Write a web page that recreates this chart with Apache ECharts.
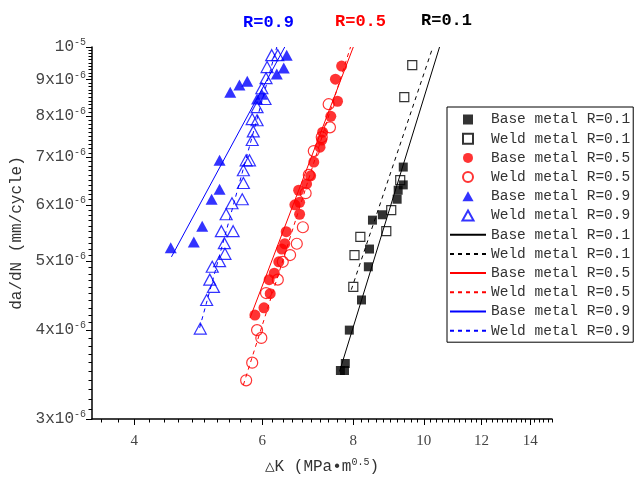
<!DOCTYPE html>
<html><head><meta charset="utf-8">
<script src="https://cdn.jsdelivr.net/npm/echarts@6/dist/echarts.min.js"></script>
<style>html,body{margin:0;padding:0;background:#fff}#c{width:640px;height:480px}</style>
</head><body><div id="c"></div>
<script>
// ---- data (ΔK in MPa·m^0.5, da/dN in mm/cycle) ----
const baseR01 = [[7.68,3.51e-6],[7.78,3.51e-6],[7.80,3.59e-6],[7.90,4.00e-6],[8.21,4.41e-6],[8.39,4.91e-6],[8.42,5.20e-6],[8.50,5.71e-6],[8.77,5.81e-6],[9.19,6.11e-6],[9.22,6.29e-6],[9.37,6.40e-6],[9.37,6.78e-6]];
const weldR01 = [[9.64,9.43e-6],[9.40,8.50e-6],[9.28,6.50e-6],[9.02,5.90e-6],[8.88,5.51e-6],[8.18,5.41e-6],[8.03,5.10e-6],[8.00,4.60e-6]];
const baseR05 = [[7.71,9.40e-6],[7.56,9.01e-6],[7.61,8.39e-6],[7.45,7.99e-6],[7.26,7.59e-6],[7.24,7.40e-6],[7.20,7.23e-6],[7.06,6.89e-6],[6.99,6.59e-6],[6.90,6.42e-6],[6.73,6.29e-6],[6.75,6.05e-6],[6.65,6.00e-6],[6.75,5.82e-6],[6.47,5.50e-6],[6.44,5.29e-6],[6.38,5.20e-6],[6.32,4.99e-6],[6.23,4.81e-6],[6.13,4.71e-6],[6.15,4.50e-6],[6.03,4.30e-6],[5.86,4.20e-6]];
const weldR05 = [[7.40,8.31e-6],[7.43,7.71e-6],[7.24,7.47e-6],[7.06,7.14e-6],[6.95,6.61e-6],[6.88,6.23e-6],[6.82,5.58e-6],[6.69,5.29e-6],[6.55,5.10e-6],[6.40,4.99e-6],[6.30,4.71e-6],[6.07,4.51e-6],[5.90,4.00e-6],[5.98,3.90e-6],[5.81,3.60e-6],[5.70,3.40e-6]];
const baseR09 = [[4.49,5.22e-6],[4.83,5.32e-6],[4.96,5.60e-6],[5.11,6.11e-6],[5.24,6.31e-6],[5.24,6.93e-6],[5.42,8.64e-6],[5.58,8.84e-6],[5.72,8.95e-6],[5.90,8.45e-6],[5.99,8.58e-6],[6.28,9.16e-6],[6.42,9.34e-6],[6.48,9.74e-6]];
const weldR09 = [[4.93,4.02e-6],[5.03,4.41e-6],[5.08,4.71e-6],[5.14,4.60e-6],[5.12,4.91e-6],[5.24,5.00e-6],[5.33,5.12e-6],[5.32,5.30e-6],[5.27,5.51e-6],[5.47,5.51e-6],[5.35,5.82e-6],[5.45,6.03e-6],[5.63,6.11e-6],[5.65,6.44e-6],[5.65,6.71e-6],[5.70,6.93e-6],[5.76,6.93e-6],[5.81,7.40e-6],[5.83,7.61e-6],[5.81,7.92e-6],[5.90,7.89e-6],[5.90,8.23e-6],[6.05,8.45e-6],[5.99,8.75e-6],[6.07,9.04e-6],[6.09,9.37e-6],[6.18,9.74e-6],[6.30,9.74e-6]];

const fitBaseR01 = [[7.66,3.50e-6],[10.51,1e-5]];
const fitWeldR01 = [[7.95,4.56e-6],[10.29,1e-5]];
const fitBaseR05 = [[5.77,4.16e-6],[8.00,1e-5]];
const fitWeldR05 = [[5.65,3.35e-6],[7.93,1e-5]];
const fitBaseR09 = [[4.50,5.07e-6],[6.44,1e-5]];
const fitWeldR09 = [[4.92,4.03e-6],[6.28,1e-5]];

const xTicks = [4, 6, 8, 10, 12, 14];
const yTicks = [3e-6, 4e-6, 5e-6, 6e-6, 7e-6, 8e-6, 9e-6, 1e-5];
const xRange = [3.5, 15];
const yRange = [3e-6, 1e-5];
const titles = ['R=0.9', 'R=0.5', 'R=0.1'];
const seriesNames = ['Base metal R=0.1','Weld metal R=0.1','Base metal R=0.5','Weld metal R=0.5','Base metal R=0.9','Weld metal R=0.9'];

// minor tick positions
const xMinor = [];
for (let i = 18; i <= 75; i++) { const v = +(i * 0.2).toFixed(1); if (v >= xRange[0] && v <= xRange[1] && xTicks.indexOf(v) < 0) xMinor.push(v); }
const yMinor = [];
for (let i = 30; i <= 100; i++) { const v = +(i * 1e-7).toPrecision(3); if (i % 10 !== 0) yMinor.push(v); }

const MONO = '"Liberation Mono", "DejaVu Sans Mono", monospace';
const SERIF = '"Liberation Serif", "DejaVu Serif", serif';
const BLACK = '#000000', RED = '#ff0000', BLUE = '#0000ff';
const SQUARE_ICON = 'path://M0,0L10,0L10,10L0,10Z';
const TRI_ICON = 'path://M5,0L10,9L0,9Z';

function yLabel(v) {
  const e = Math.floor(Math.log10(v) + 1e-9);
  const m = Math.round(v / Math.pow(10, e));
  return (m === 1 ? '{b|10}' : '{b|' + m + 'x10}') + '{s|' + e + '}';
}

function sc(name, data, symbol, size, color, open) {
  return {
    type: 'scatter', name: name, data: data, symbol: symbol, symbolSize: size,
    itemStyle: open ? { color: 'rgba(255,255,255,0)', borderColor: color, borderWidth: 1.2 } : { color: color, borderWidth: 0 },
    z: 3, silent: true
  };
}
function ln(name, data, color, dashed) {
  return {
    type: 'line', name: name + ' ', data: data, symbol: 'none', showSymbol: false,
    lineStyle: { color: color, width: 1, type: dashed ? [4, 4] : 'solid' },
    itemStyle: { color: color }, z: 2, silent: true
  };
}

const legendData = [
  { name: seriesNames[0], icon: SQUARE_ICON },
  { name: seriesNames[1], icon: SQUARE_ICON },
  { name: seriesNames[2], icon: 'circle' },
  { name: seriesNames[3], icon: 'circle' },
  { name: seriesNames[4], icon: TRI_ICON },
  { name: seriesNames[5], icon: TRI_ICON }
].concat(seriesNames.map(n => ({ name: n + ' ', itemStyle: { opacity: 0, color: 'rgba(0,0,0,0)', borderWidth: 0 } })));

const chart = echarts.init(document.getElementById('c'), null, { renderer: 'canvas' });
const option = {
  animation: false,
  backgroundColor: '#ffffff',
  title: [
    { text: titles[0], left: 243, top: 14, padding: 0, textStyle: { color: BLUE, fontFamily: MONO, fontWeight: 'bold', fontSize: 17 } },
    { text: titles[1], left: 335, top: 13, padding: 0, textStyle: { color: RED, fontFamily: MONO, fontWeight: 'bold', fontSize: 17 } },
    { text: titles[2], left: 421, top: 12, padding: 0, textStyle: { color: BLACK, fontFamily: MONO, fontWeight: 'bold', fontSize: 17 } }
  ],
  legend: {
    orient: 'vertical', left: 447, top: 107,
    padding: [5, 3, 4, 2], itemGap: 4.2, itemWidth: 36, itemHeight: 10,
    borderColor: '#000', borderWidth: 1, backgroundColor: '#fff',
    selectedMode: false,
    formatter: n => n.trim(),
    textStyle: { fontFamily: MONO, fontSize: 14.5, color: '#333', lineHeight: 14 },
    data: legendData
  },
  grid: { left: 92, top: 47, width: 460, height: 372, outerBoundsMode: 'none' },
  xAxis: [
    {
      type: 'log', logBase: 10, min: xRange[0], max: xRange[1], position: 'bottom',
      axisLine: { show: true, onZero: false, lineStyle: { color: '#000', width: 1.5 } },
      axisTick: { show: true, customValues: xTicks, length: 6, lineStyle: { color: '#000', width: 1 } },
      minorTick: { show: false }, splitLine: { show: false },
      axisLabel: { customValues: xTicks, margin: 15, fontFamily: SERIF, fontSize: 15, color: '#444', formatter: v => String(v) },
      name: '{a|△K (MPa•m}{s|0.5}{a|)}', nameLocation: 'middle', nameGap: 38,
      nameTextStyle: { rich: { a: { fontFamily: MONO, fontSize: 16, color: '#333' }, s: { fontFamily: MONO, fontSize: 10, color: '#333', padding: [0, 0, 9, 0] } } }
    },
    {
      type: 'log', logBase: 10, min: xRange[0], max: xRange[1], position: 'bottom',
      axisLine: { show: false, onZero: false },
      axisTick: { show: true, customValues: xMinor, length: 3.5, lineStyle: { color: '#000', width: 1 } },
      axisLabel: { show: false }, splitLine: { show: false }
    }
  ],
  yAxis: [
    {
      type: 'log', logBase: 10, min: yRange[0], max: yRange[1], position: 'left',
      axisLine: { show: true, onZero: false, lineStyle: { color: '#000', width: 1.5 } },
      axisTick: { show: true, customValues: yTicks, length: 6, lineStyle: { color: '#000', width: 1 } },
      minorTick: { show: false }, splitLine: { show: false },
      axisLabel: {
        customValues: yTicks, margin: 6, formatter: yLabel,
        rich: { b: { fontFamily: MONO, fontSize: 16, color: '#444' }, s: { fontFamily: MONO, fontSize: 10, color: '#444', padding: [0, 0, 9, 0] } }
      },
      name: 'da/dN (mm/cycle)', nameLocation: 'middle', nameGap: 49, nameRotate: 90,
      nameTextStyle: { fontFamily: MONO, fontSize: 16, color: '#333' }
    },
    {
      type: 'log', logBase: 10, min: yRange[0], max: yRange[1], position: 'left',
      axisLine: { show: false, onZero: false },
      axisTick: { show: true, customValues: yMinor, length: 3.5, lineStyle: { color: '#000', width: 1 } },
      axisLabel: { show: false }, splitLine: { show: false }
    }
  ],
  series: [
    ln(seriesNames[0], fitBaseR01, BLACK, false),
    ln(seriesNames[1], fitWeldR01, BLACK, true),
    ln(seriesNames[2], fitBaseR05, RED, false),
    ln(seriesNames[3], fitWeldR05, RED, true),
    ln(seriesNames[4], fitBaseR09, BLUE, false),
    ln(seriesNames[5], fitWeldR09, BLUE, true),
    sc(seriesNames[0], baseR01, 'rect', 9, BLACK, false),
    sc(seriesNames[1], weldR01, 'rect', 9, BLACK, true),
    sc(seriesNames[2], baseR05, 'circle', 11, RED, false),
    sc(seriesNames[3], weldR05, 'circle', 11, RED, true),
    sc(seriesNames[4], baseR09, 'triangle', [12, 11], BLUE, false),
    sc(seriesNames[5], weldR09, 'triangle', [12, 11], BLUE, true)
  ]
};
chart.setOption(option);
</script>
</body></html>
